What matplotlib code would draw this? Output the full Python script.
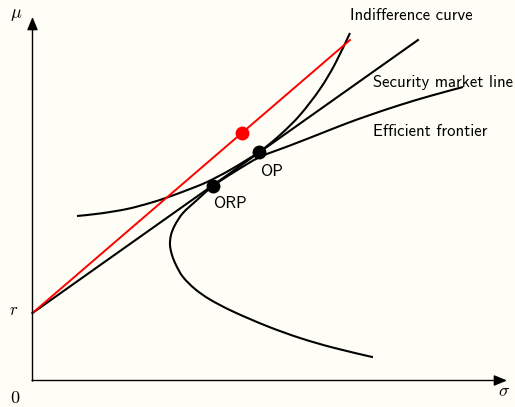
import matplotlib.pyplot as plt
from matplotlib.patches import ArrowStyle, PathPatch
from matplotlib.path import Path

plt.rcParams['mathtext.fontset'] = 'cm'

# risk free rate and line ends (sigma, mu)
r_free = 0.675
sml_end = (3.855, 3.405)      # security market line
red_end = (3.175, 3.405)      # red line

# indifference curve
ic_sigma = [0.445, 0.675, 0.945, 1.175, 1.345, 1.575, 1.745, 1.975, 2.265,
            2.475, 2.675, 2.875, 3.025, 3.175]
ic_mu = [1.645, 1.67, 1.715, 1.775, 1.83, 1.915, 1.985, 2.105, 2.285,
         2.455, 2.655, 2.915, 3.165, 3.475]

# efficient frontier (lower branch -> upper branch)
ef_sigma = [3.405, 3.005, 2.675, 2.345, 2.005, 1.775, 1.625, 1.505, 1.435,
            1.395, 1.375, 1.385, 1.425, 1.505, 1.645, 1.805, 2.025, 2.275,
            2.575, 2.845, 3.125, 3.375, 3.675, 3.975, 4.305]
ef_mu = [0.233, 0.329, 0.425, 0.544, 0.69, 0.81, 0.915, 1.035, 1.155,
         1.255, 1.355, 1.455, 1.555, 1.675, 1.805, 1.945, 2.09, 2.235,
         2.35, 2.455, 2.565, 2.655, 2.755, 2.845, 2.935]

orp = (1.805, 1.945)
op = (2.265, 2.285)
red_pt = (2.09, 2.475)


def smooth_path(xs, ys):
    # curve through the points (catmull-rom drawn as bezier segments)
    pts = list(zip(xs, ys))
    ext = [pts[0]] + pts + [pts[-1]]
    verts = [pts[0]]
    codes = [Path.MOVETO]
    for i in range(1, len(ext) - 2):
        p0, p1, p2, p3 = ext[i - 1], ext[i], ext[i + 1], ext[i + 2]
        c1 = (p1[0] + (p2[0] - p0[0]) / 6, p1[1] + (p2[1] - p0[1]) / 6)
        c2 = (p2[0] - (p3[0] - p1[0]) / 6, p2[1] - (p3[1] - p1[1]) / 6)
        verts += [c1, c2, p2]
        codes += [Path.CURVE4] * 3
    return Path(verts, codes)


bg = '#fefef6'
fig = plt.figure(figsize=(5.15, 4.07), dpi=100, facecolor=bg)
ax = fig.add_axes([0, 0, 1, 1])
ax.set_facecolor(bg)
ax.set_xlim(-0.325, 4.825)
ax.set_ylim(-0.265, 3.805)
ax.axis('off')

# axes with arrows
head = ArrowStyle('-|>', head_length=0.6, head_width=0.25)
ax.annotate('', xy=(0, 3.635), xytext=(0, -0.005),
            arrowprops=dict(arrowstyle=head, mutation_scale=13, lw=1, color='black',
                            shrinkA=0, shrinkB=0))
ax.annotate('', xy=(4.745, 0), xytext=(-0.005, 0),
            arrowprops=dict(arrowstyle=head, mutation_scale=13, lw=1, color='black',
                            shrinkA=0, shrinkB=0))

ax.add_patch(PathPatch(smooth_path(ef_sigma, ef_mu), fill=False, lw=1.5, ec='black'))
ax.add_patch(PathPatch(smooth_path(ic_sigma, ic_mu), fill=False, lw=1.5, ec='black'))
ax.plot([0, sml_end[0]], [r_free, sml_end[1]], color='black', lw=1.5)
ax.plot([0, red_end[0]], [r_free, red_end[1]], color='red', lw=1.4)

ax.plot(*red_pt, 'o', color='red', ms=9, zorder=5)
ax.plot(*orp, 'o', color='black', ms=9, zorder=5)
ax.plot(*op, 'o', color='black', ms=9, zorder=5)

sans = dict(family='cmss10', fontsize=12, va='baseline', ha='left')
ax.text(3.175, 3.61, 'Indifference curve', **sans)
ax.text(3.405, 2.94, 'Security market line', **sans)
ax.text(3.405, 2.44, 'Efficient frontier', **sans)
ax.text(2.275, 2.05, 'OP', **sans)
ax.text(1.81, 1.73, 'ORP', **sans)

ax.text(-0.165, 3.665, r'$\mu$', fontsize=13, ha='center', va='center')
ax.text(4.715, -0.105, r'$\sigma$', fontsize=13, ha='center', va='center')
ax.text(-0.185, 0.705, r'$r$', fontsize=12, ha='center', va='center')
ax.text(-0.175, -0.175, r'$0$', fontsize=13, ha='center', va='center')

fig.savefig('out.png', dpi=100, facecolor=bg)
